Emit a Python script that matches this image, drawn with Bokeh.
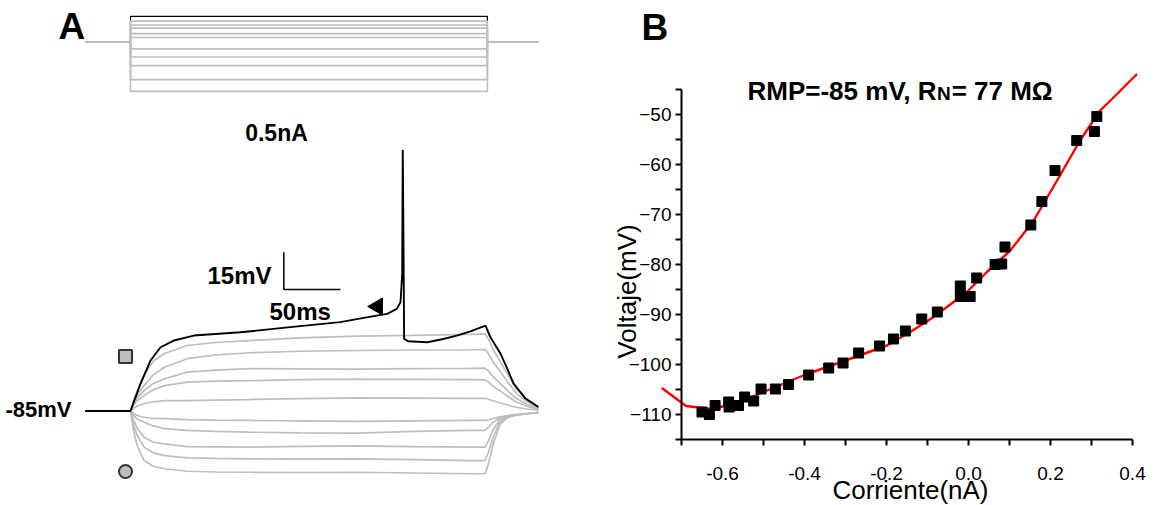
import math
from bokeh.plotting import figure
from bokeh.layouts import row
from bokeh.models import Range1d, Label, FixedTicker, PrintfTickFormatter
from bokeh.embed import file_html
from bokeh.resources import INLINE

# ---------------- Panel A data ----------------
# injected current steps (nA), step from 0 to 315 ms
STEP_T = [-40, 0, 0, 315, 315, 360]
CURRENT_GRAY = [0.27, 0.22, 0.18, 0.11, 0.06, -0.085, -0.19, -0.30, -0.48, -0.63]
CURRENT_BLACK = 0.33

# voltage responses (mV), gray traces sampled at V_T (ms)
V_T = [-40, 0, 3, 6, 12, 20, 30, 50, 75, 105, 150, 200, 250, 300, 313, 316, 320, 326, 333, 340, 350, 360]
G1 = [-85, -85, -80.5, -76.6, -70.7, -65.0, -61.9, -58.7, -57.5, -56.7, -55.6, -54.9, -54.6, -54.2, -54.0, -56.2, -60.2, -64.9, -70.4, -75.7, -80.3, -83.5]
G2 = [-85, -85, -81.5, -78.5, -74.8, -70.5, -67.4, -64.0, -62.5, -61.6, -61.0, -60.7, -60.5, -60.4, -60.3, -62.0, -65.2, -69.0, -73.4, -77.6, -81.3, -83.8]
G3 = [-85, -85, -82.0, -79.6, -76.8, -74.0, -72.1, -69.4, -68.6, -68.0, -68.1, -68.2, -68.0, -67.9, -67.8, -69.0, -71.2, -73.8, -76.9, -79.8, -82.4, -84.1]
G4 = [-85, -85, -82.5, -80.8, -78.8, -76.5, -74.8, -73.4, -73.0, -72.8, -72.4, -72.2, -72.3, -72.4, -72.5, -73.4, -75.0, -76.9, -79.1, -81.3, -83.1, -84.4]
G5 = [-85, -85, -83.8, -83.0, -82.1, -81.3, -80.8, -80.8, -80.6, -80.4, -80.0, -79.7, -79.8, -79.9, -79.9, -80.3, -80.9, -81.7, -82.6, -83.5, -84.2, -84.7]
G6 = [-85, -85, -86.0, -86.8, -87.5, -88.0, -88.1, -88.5, -88.7, -88.8, -89.0, -89.2, -89.0, -88.8, -88.8, -88.5, -88.0, -87.3, -86.8, -86.4, -86.0, -85.6]
G7 = [-85, -85, -87.0, -88.3, -89.5, -91.0, -92.1, -92.8, -93.2, -93.5, -93.8, -93.9, -93.2, -92.8, -92.8, -91.5, -89.5, -87.8, -87.0, -86.5, -86.0, -85.6]
G8 = [-85, -85, -89.0, -92.0, -95.5, -97.5, -98.2, -99.3, -99.4, -99.5, -99.2, -99.0, -99.3, -99.5, -99.5, -97.0, -92.5, -88.5, -87.2, -86.6, -86.1, -85.6]
G9 = [-85, -85, -91.0, -95.0, -99.5, -101.8, -102.9, -103.8, -104.0, -104.2, -104.3, -104.2, -104.5, -104.9, -104.9, -101.5, -95.5, -89.5, -87.4, -86.7, -86.1, -85.6]
G10 = [-85, -85, -93.5, -99.0, -104.9, -107.2, -108.2, -109.2, -109.5, -109.6, -109.7, -109.6, -109.9, -110.2, -110.2, -106.0, -98.5, -90.5, -87.6, -86.8, -86.1, -85.6]
GRAY_TRACES = [G1, G2, G3, G4, G5, G6, G7, G8, G9, G10]

# black (spiking) trace
BLACK_T = [-40, 0, 4, 8.8, 17.7, 26.5, 38.2, 55.9, 97, 141, 185, 214.6, 226.6, 235, 238.3, 239.8, 240.3, 241.0, 241.5, 245, 262, 275, 288, 300, 313.3, 317.7, 326.6, 333, 338, 348.6, 360]
BLACK_V = [-85, -85, -80.0, -74.1, -64.7, -59.4, -56.7, -54.7, -53.4, -51.3, -49.3, -46.9, -46.0, -44.0, -41.3, -30.0, 19.9, -20.0, -56.0, -57.0, -57.4, -56.2, -54.7, -53.0, -50.7, -55.4, -62.0, -68.5, -73.9, -80.0, -83.4]

# scale bar of panel A (ms, mV)
SCALE_T0, SCALE_V0, SCALE_DT, SCALE_DV = 135.3, -36.2, 50, 15

# ---------------- Panel B data ----------------
IV_I = [-0.650, -0.632, -0.618, -0.585, -0.584, -0.561, -0.546, -0.524, -0.506, -0.471, -0.439,
        -0.390, -0.341, -0.306, -0.268, -0.217, -0.183, -0.154, -0.114, -0.076, -0.020, -0.020,
        0.004, 0.020, 0.065, 0.081, 0.089, 0.152, 0.179, 0.211, 0.264, 0.307, 0.313]
IV_V = [-109.5, -110.0, -108.2, -107.5, -108.5, -108.2, -106.5, -107.3, -104.9, -104.9, -104.0,
        -102.1, -100.7, -99.7, -97.7, -96.3, -94.9, -93.3, -90.9, -89.5, -84.3, -86.4,
        -86.4, -82.7, -80.0, -79.9, -76.5, -72.1, -67.4, -61.2, -55.2, -53.4, -50.4]
FIT_I = [-0.748, -0.689, -0.628, -0.561, -0.500, -0.400, -0.297, -0.199, -0.142, -0.085, -0.004,
         0.045, 0.102, 0.159, 0.216, 0.272, 0.321, 0.350, 0.411]
FIT_V = [-104.7, -108.3, -108.9, -107.7, -105.5, -102.1, -99.1, -96.2, -93.5, -90.5, -85.5,
         -81.5, -77.2, -71.2, -63.2, -55.2, -49.2, -46.9, -41.9]
X_TICKS = [-0.6, -0.4, -0.2, 0.0, 0.2, 0.4]
X_MINOR = [-0.7, -0.5, -0.3, -0.1, 0.1, 0.3]
Y_TICKS = [-110, -100, -90, -80, -70, -60, -50]
Y_MINOR = [-115, -105, -95, -85, -75, -65, -55, -45]

FONT = "Liberation Sans"
GRAY = "#bebebe"

# ---------------- Panel A ----------------
WA, H = 548, 505
PX_MS, PX_MV, X0, Y0 = 1.133, 2.49, 130.0, 410.5

def at(px, py):
    return (px - X0) / PX_MS, -85 + (Y0 - py) / PX_MV

pA = figure(width=WA, height=H, output_backend="svg", toolbar_location=None,
            x_axis_type=None, y_axis_type=None, min_border=0, frame_align=False,
            x_range=Range1d(-X0 / PX_MS, (WA - X0) / PX_MS),
            y_range=Range1d(-85 - (H - Y0) / PX_MV, -85 + Y0 / PX_MV))
pA.outline_line_color = None
pA.grid.visible = False
CUR_Y0, CUR_PX = 41.7, 78.0
pA.extra_y_ranges = {"cur": Range1d(-(H - CUR_Y0) / CUR_PX, CUR_Y0 / CUR_PX)}

pA.line(STEP_T, [0, 0, CURRENT_BLACK, CURRENT_BLACK, 0, 0], y_range_name="cur",
        line_color="black", line_width=1.2)
for lvl in CURRENT_GRAY:
    pA.line(STEP_T, [0, 0, lvl, lvl, 0, 0], y_range_name="cur", line_color=GRAY, line_width=1.6)

for tr in GRAY_TRACES:
    pA.line(V_T, tr, line_color=GRAY, line_width=1.7)
pA.line(BLACK_T, BLACK_V, line_color="black", line_width=1.9)

pA.line([SCALE_T0, SCALE_T0, SCALE_T0 + SCALE_DT], [SCALE_V0 + SCALE_DV, SCALE_V0, SCALE_V0],
        line_color="black", line_width=1.5)

sq = at(125, 356); ci = at(125, 471); ar = at(377, 306)
pA.scatter([sq[0]], [sq[1]], marker="square", size=13, fill_color="#bdbdbd", line_color="#333333", line_width=2)
pA.scatter([ci[0]], [ci[1]], marker="circle", size=13, fill_color="#bdbdbd", line_color="#333333", line_width=2)
pA.scatter([ar[0]], [ar[1]], marker="triangle", size=17, angle=math.pi / 2, fill_color="black", line_color="black")

def labA(text, px, py, size, align="left", bold=True):
    x, y = at(px, py)
    pA.add_layout(Label(x=x, y=y, text=text, text_font=FONT, text_font_size=f"{size}px",
                        text_font_style="bold" if bold else "normal", text_align=align,
                        text_baseline="middle", text_color="black"))

labA("A", 58, 25.5, 37)
labA("0.5nA", 276, 132.5, 23, "center")
labA("15mV", 271, 275, 24, "right")
labA("50ms", 269, 311, 24)
labA("-85mV", 71, 409, 22, "right")

# ---------------- Panel B ----------------
WB = 1156 - WA
PX_NA, PX_MVB = 410.0, 5.0

def xb(px):
    return -0.7 + (px - 681) / PX_NA

def yb(py):
    return -45 - (py - 89) / PX_MVB

pB = figure(width=WB, height=H, output_backend="svg", toolbar_location=None, frame_align=False,
            x_range=Range1d(xb(WA), xb(1156)), y_range=Range1d(yb(H), yb(0)), min_border=0)
pB.outline_line_color = None
pB.grid.visible = False

pB.line(FIT_I, FIT_V, line_color="#ff0000", line_width=2.4)
pB.scatter(IV_I, IV_V, marker="square", size=10, fill_color="black", line_color="black")

for ax in (pB.xaxis[0], pB.yaxis[0]):
    ax.axis_line_width = 2
    ax.major_tick_line_width = 2
    ax.minor_tick_line_width = 2
    ax.major_tick_in = 0
    ax.minor_tick_in = 0
    ax.major_tick_out = 6
    ax.minor_tick_out = 6
    ax.major_label_text_font = FONT
    ax.major_label_text_font_size = "19px"
    ax.major_label_text_color = "black"
    ax.axis_line_color = "black"
    ax.major_tick_line_color = "black"
    ax.minor_tick_line_color = "black"

pB.xaxis.ticker = FixedTicker(ticks=X_TICKS, minor_ticks=X_MINOR)
pB.xaxis.formatter = PrintfTickFormatter(format="%.1f")
pB.xaxis.bounds = (-0.7, 0.4)
pB.xaxis.fixed_location = -115
pB.xaxis.major_label_standoff = 21
pB.yaxis.ticker = FixedTicker(ticks=Y_TICKS, minor_ticks=Y_MINOR)
pB.yaxis.bounds = (-115, -45)
pB.yaxis.fixed_location = -0.7
pB.yaxis.major_label_standoff = 4
pB.yaxis.major_label_orientation = "horizontal"

def labB(text, px, py, size, align="left", bold=False, angle=0.0):
    pB.add_layout(Label(x=xb(px), y=yb(py), text=text, text_font=FONT, text_font_size=f"{size}px",
                        text_font_style="bold" if bold else "normal", text_align=align,
                        text_baseline="middle", text_color="black", angle=angle))

labB("B", 641, 26.5, 37, bold=True)
labB("Voltaje(mV)", 626, 291, 26, "center", angle=math.pi / 2)
labB("Corriente(nA)", 910, 489, 26, "center")

# title with small "N"
TS, NS = 26, 19
t_left = 747
w1 = 7.363 * TS
labB("RMP=-85 mV, R", t_left, 90, TS, bold=True)
labB("N", t_left + w1 - 2, 92.5, NS, bold=True)
labB("= 77 M\u03a9", t_left + w1 - 2 + 0.722 * NS + 1, 90, TS, bold=True)

layout = row(pA, pB)
open("out.html", "w").write(file_html(layout, INLINE))
